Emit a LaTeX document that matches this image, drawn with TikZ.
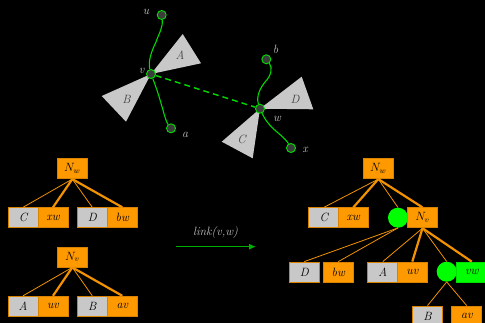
\documentclass[tikz,border=0pt]{standalone}
\usetikzlibrary{arrows.meta}
\definecolor{org}{HTML}{FF9900}
\definecolor{orgdark}{HTML}{D98200}
\definecolor{orgline}{HTML}{F29200}
\definecolor{grayfill}{HTML}{C8C8C8}
\definecolor{lime}{HTML}{00FF00}
\definecolor{limedark}{HTML}{00E000}
\definecolor{arrowgreen}{HTML}{00B000}
\definecolor{vertfill}{HTML}{3C3C3C}
\definecolor{lbl}{HTML}{C0C0C0}
\definecolor{tri}{HTML}{C8C8C8}
\pgfdeclarelayer{bg}
\pgfdeclarelayer{wires}
\pgfsetlayers{bg,wires,main}
\begin{document}
\begin{tikzpicture}[x=1pt,y=-1pt,
  every node/.style={font=\fontsize{12}{14}\selectfont\itshape},
  obox/.style={draw=orgdark,fill=org,line width=0.8pt,minimum width=30pt,minimum height=20pt,inner sep=0pt},
  gbox/.style={draw=orgdark,fill=grayfill,line width=0.8pt,minimum width=30pt,minimum height=20pt,inner sep=0pt},
  lbox/.style={draw=limedark,fill=lime,line width=0.8pt,minimum width=30pt,minimum height=20pt,inner sep=0pt},
  gdot/.style={circle,fill=lime,minimum size=20pt,inner sep=0pt},
  vert/.style={circle,draw=limedark,fill=vertfill,line width=0.9pt,minimum size=9pt,inner sep=0pt},
  vlabel/.style={text=lbl},
  trilabel/.style={text=black!75},
  thin edge/.style={draw=orgline,line width=0.8pt},
  thick edge/.style={draw=orgline,line width=2.2pt},
  wire/.style={draw=lime!85!black,line width=1.1pt}
]
\useasboundingbox (0,0) rectangle (485,323);
\begin{pgfonlayer}{bg}
\fill[black] (0,0) rectangle (485,323);
\end{pgfonlayer}

% ---------- top graph ----------
\node[vert] (u) at (161.7,15) {};
\node[vert] (v) at (151,74) {};
\node[vert] (a) at (171,128.3) {};
\node[vert] (b) at (266.3,59.3) {};
\node[vert] (w) at (260,108.7) {};
\node[vert] (x) at (291,148) {};

\begin{pgfonlayer}{wires}
\fill[tri] (v.center) -- (182.7,34) -- (201,63.3) -- cycle;
\fill[tri] (v.center) -- (101.7,96) -- (126,121.7) -- cycle;
\fill[tri] (w.center) -- (301.7,76.7) -- (313.3,109.3) -- cycle;
\fill[tri] (w.center) -- (221.7,141.7) -- (252.7,158.3) -- cycle;
\draw[wire] (u) .. controls (163,28) and (159,33) .. (156,42) .. controls (151,52) and (148,62) .. (v);
\draw[wire] (v) .. controls (158,92) and (160,100) .. (163,110) .. controls (165,118) and (167,123) .. (a);
\draw[wire] (b) .. controls (273,68) and (271,76) .. (265,82) .. controls (257,92) and (257,100) .. (w);
\draw[wire] (w) .. controls (265,120) and (270,126) .. (277,132) .. controls (283,137) and (287,141) .. (x);
\draw[wire,line width=1.4pt,dash pattern=on 6pt off 4pt] (v) -- (w);
\end{pgfonlayer}

\node[trilabel] (tA) at (180,55) {A};
\node[trilabel] (tB) at (126.5,99.5) {B};
\node[trilabel] (tD) at (295,99.5) {D};
\node[trilabel] (tC) at (241.5,139.5) {C};

\node[vlabel] (lu) at (146,11.5) {u};
\node[vlabel] (lv) at (141.5,70.5) {v};
\node[vlabel] (la) at (185,134.5) {a};
\node[vlabel] (lb) at (275.5,49.5) {b};
\node[vlabel] (lw) at (277,119) {w};
\node[vlabel] (lx) at (305,149.5) {x};

% ---------- left trees ----------
\node[obox] (Nw1) at (72.3,168.7) {$N_w$};
\node[gbox] (C1) at (23,217.7) {C};
\node[obox] (xw1) at (53,217.7) {xw};
\node[gbox] (D1) at (92.3,217.7) {D};
\node[obox] (bw1) at (122.3,217.7) {bw};
\draw[thin edge] (Nw1.south) -- (C1.north);
\draw[thick edge] (Nw1.south) -- (xw1.north);
\draw[thin edge] (Nw1.south) -- (D1.north);
\draw[thick edge] (Nw1.south) -- (bw1.north);

\node[obox] (Nv1) at (72.3,257) {$N_v$};
\node[gbox] (A1) at (23,306.2) {A};
\node[obox] (uv1) at (53,306.2) {uv};
\node[gbox] (B1) at (92.3,306.2) {B};
\node[obox] (av1) at (122.3,306.2) {av};
\draw[thin edge] (Nv1.south) -- (A1.north);
\draw[thick edge] (Nv1.south) -- (uv1.north);
\draw[thin edge] (Nv1.south) -- (B1.north);
\draw[thick edge] (Nv1.south) -- (av1.north);

% ---------- arrow ----------
\coordinate (as) at (176,246.7);
\coordinate (ae) at (256,246.7);
\draw[draw=arrowgreen,line width=1.2pt,-{Latex[length=7pt,width=6pt]}] (as) -- (ae);
\node[text=lbl] (lk) at (215.5,232.5) {link(v,w)};

% ---------- right tree ----------
\node[obox] (Nw2) at (378.3,168.7) {$N_w$};
\node[gbox] (C2) at (323.8,217.8) {C};
\node[obox] (xw2) at (353.3,217.8) {xw};
\node[gdot] (g1) at (398,217.7) {};
\node[obox] (Nv2) at (422.5,217.8) {$N_v$};
\draw[thin edge] (Nw2.south) -- (C2.north);
\draw[thick edge] (Nw2.south) -- (xw2.north);
\draw[thin edge] (Nw2.south) -- (g1.north);
\draw[thick edge] (Nw2.south) -- (Nv2.north);

\node[gbox] (D2) at (304.3,272) {D};
\node[obox] (bw2) at (338.3,272) {bw};
\node[gbox] (A2) at (382.8,272) {A};
\node[obox] (uv2) at (412.3,272) {uv};
\node[gdot] (g2) at (446.7,271.7) {};
\node[lbox] (vw2) at (471.7,272) {vw};
\draw[thin edge] (g1.south) -- (D2.north);
\draw[thin edge] (g1.south) -- (bw2.north);
\draw[thin edge] (Nv2.south) -- (A2.north);
\draw[thick edge] (Nv2.south) -- (uv2.north);
\draw[thin edge] (Nv2.south) -- (g2.north);
\draw[thick edge] (Nv2.south) -- (vw2.north);

\node[gbox] (B2) at (427.5,316) {B};
\node[obox] (av2) at (466.7,316) {av};
\draw[thin edge] (g2.south) -- (B2.north);
\draw[thin edge] (g2.south) -- (av2.north);
\end{tikzpicture}
\end{document}
